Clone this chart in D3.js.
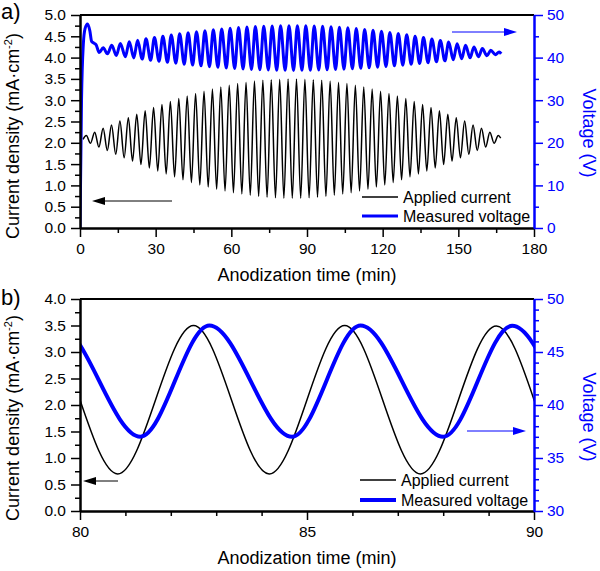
<!DOCTYPE html>
<html><head><meta charset="utf-8">
<script src="https://cdn.jsdelivr.net/npm/d3@7"></script>
<style>
body{margin:0;background:#fff;}
svg{display:block;font-family:"Liberation Sans",Arial,sans-serif;}
</style></head>
<body>
<svg id="chart" width="600" height="571"></svg>
<script>
// ---------- DATA ----------
const currentTime = [1.2, 2.50, 4.17, 5.83, 7.50, 9.17, 10.83, 12.50, 14.17, 15.83, 17.50, 19.17, 20.83, 22.50, 24.17, 25.83, 27.50, 29.17, 30.83, 32.50, 34.17, 35.83, 37.50, 39.17, 40.83, 42.50, 44.17, 45.83, 47.50, 49.17, 50.83, 52.50, 54.17, 55.83, 57.50, 59.17, 60.83, 62.50, 64.17, 65.83, 67.50, 69.17, 70.83, 72.50, 74.17, 75.83, 77.50, 79.17, 80.83, 82.50, 84.17, 85.83, 87.50, 89.17, 90.83, 92.50, 94.17, 95.83, 97.50, 99.17, 100.83, 102.50, 104.17, 105.83, 107.50, 109.17, 110.83, 112.50, 114.17, 115.83, 117.50, 119.17, 120.83, 122.50, 124.17, 125.83, 127.50, 129.17, 130.83, 132.50, 134.17, 135.83, 137.50, 139.17, 140.83, 142.50, 144.17, 145.83, 147.50, 149.17, 150.83, 152.50, 154.17, 155.83, 157.50, 159.17, 160.83, 162.50, 164.17, 165.83, 166.8];
const currentValue = [2.08, 2.17, 1.99, 2.25, 1.90, 2.34, 1.82, 2.42, 1.73, 2.51, 1.65, 2.59, 1.57, 2.67, 1.49, 2.75, 1.41, 2.83, 1.34, 2.90, 1.27, 2.97, 1.20, 3.04, 1.13, 3.10, 1.07, 3.16, 1.01, 3.21, 0.96, 3.26, 0.91, 3.31, 0.87, 3.35, 0.83, 3.39, 0.80, 3.42, 0.77, 3.45, 0.74, 3.47, 0.72, 3.48, 0.71, 3.49, 0.70, 3.50, 0.70, 3.50, 0.70, 3.49, 0.71, 3.48, 0.72, 3.47, 0.74, 3.45, 0.77, 3.42, 0.80, 3.39, 0.83, 3.35, 0.87, 3.31, 0.91, 3.26, 0.96, 3.21, 1.01, 3.16, 1.07, 3.10, 1.13, 3.04, 1.20, 2.97, 1.27, 2.90, 1.34, 2.83, 1.41, 2.75, 1.49, 2.67, 1.57, 2.59, 1.65, 2.51, 1.73, 2.42, 1.82, 2.34, 1.90, 2.25, 1.99, 2.17, 2.11];

const voltageTime = [0, 0.6, 1.3, 2.0, 3.0, 3.9, 4.6, 5.5, 6.4, 7.6, 9.2, 10.9, 12.6, 14.4, 16.0, 18.00, 19.52, 21.33, 22.85, 24.67, 26.18, 28.00, 29.52, 31.33, 32.85, 34.67, 36.18, 38.00, 39.52, 41.33, 42.85, 44.67, 46.18, 48.00, 49.52, 51.33, 52.85, 54.67, 56.18, 58.00, 59.52, 61.33, 62.85, 64.67, 66.18, 68.00, 69.52, 71.33, 72.85, 74.67, 76.18, 78.00, 79.52, 81.33, 82.85, 84.67, 86.18, 88.00, 89.52, 91.33, 92.85, 94.67, 96.18, 98.00, 99.52, 101.33, 102.85, 104.67, 106.18, 108.00, 109.52, 111.33, 112.85, 114.67, 116.18, 118.00, 119.52, 121.33, 122.85, 124.67, 126.18, 128.00, 129.52, 131.33, 132.85, 134.67, 136.18, 138.00, 139.52, 141.33, 142.85, 144.67, 146.18, 148.00, 149.52, 151.33, 152.85, 154.67, 156.18, 158.00, 159.52, 161.33, 162.85, 164.67, 166.18, 167.0];
const voltageValue = [0, 30, 43, 46.8, 47.9, 46.3, 43.8, 43.4, 43.0, 41.2, 42.3, 40.9, 42.9, 40.5, 43.3, 40.19, 43.73, 39.92, 44.07, 39.65, 44.40, 39.39, 44.71, 39.14, 45.01, 38.90, 45.30, 38.66, 45.58, 38.45, 45.84, 38.24, 46.09, 38.06, 46.31, 37.88, 46.52, 37.72, 46.72, 37.56, 46.88, 37.44, 47.04, 37.32, 47.17, 37.22, 47.28, 37.14, 47.37, 37.08, 47.43, 37.04, 47.48, 37.01, 47.50, 37.00, 47.50, 37.01, 47.47, 37.03, 47.43, 37.07, 47.35, 37.12, 47.25, 37.19, 47.13, 37.28, 46.98, 37.37, 46.81, 37.48, 46.62, 37.61, 46.40, 37.75, 46.16, 37.90, 45.92, 38.06, 45.64, 38.23, 45.35, 38.42, 45.04, 38.62, 44.71, 38.82, 44.37, 39.03, 44.02, 39.25, 43.66, 39.48, 43.28, 39.71, 42.89, 39.95, 42.50, 40.20, 42.11, 40.44, 41.71, 40.69, 41.31, 40.9];

// tick label arrays
const topXMajor = [0, 30, 60, 90, 120, 150, 180];
const topXMinor = [15, 45, 75, 105, 135, 165];
const topYLeftMajor = [0, 0.5, 1, 1.5, 2, 2.5, 3, 3.5, 4, 4.5, 5];
const topYLeftMinor = [0.25, 0.75, 1.25, 1.75, 2.25, 2.75, 3.25, 3.75, 4.25, 4.75];
const topYRightMajor = [0, 10, 20, 30, 40, 50];
const topYRightMinor = [5, 15, 25, 35, 45];
const botXMajor = [80, 85, 90];
const botXMinor = [81, 82, 83, 84, 86, 87, 88, 89];
const botYLeftMajor = [0, 0.5, 1, 1.5, 2, 2.5, 3, 3.5, 4];
const botYLeftMinor = [0.25, 0.75, 1.25, 1.75, 2.25, 2.75, 3.25, 3.75];
const botYRightMajor = [30, 35, 40, 45, 50];
const botYRightMinor = [31, 32, 33, 34, 36, 37, 38, 39, 41, 42, 43, 44, 46, 47, 48, 49];
const seriesNames = ["Applied current", "Measured voltage"];

// ---------- DRAW ----------
const BLUE = "#0000ff";
const svg = d3.select("#chart");
const currentPts = d3.zip(currentTime, currentValue);
const voltagePts = d3.zip(voltageTime, voltageValue);

const MAJ = 9, MIN = 5;

function panel(cfg) {
  const g = svg.append("g");
  const x = d3.scaleLinear().domain(cfg.xDomain).range([cfg.left, cfg.right]);
  const yL = d3.scaleLinear().domain(cfg.yLDomain).range([cfg.bottom, cfg.top]);
  const yR = d3.scaleLinear().domain(cfg.yRDomain).range([cfg.bottom, cfg.top]);

  const clipId = "clip" + cfg.id;
  svg.append("defs").append("clipPath").attr("id", clipId)
    .append("rect").attr("x", cfg.left).attr("y", cfg.top - 4)
    .attr("width", cfg.right - cfg.left).attr("height", cfg.bottom - cfg.top + 8);

  const plot = g.append("g").attr("clip-path", `url(#${clipId})`);
  const lineC = d3.line().x(d => x(d[0])).y(d => yL(d[1])).curve(d3.curveMonotoneX);
  const lineV = d3.line().x(d => x(d[0])).y(d => yR(d[1])).curve(d3.curveMonotoneX);
  plot.append("path").attr("d", lineC(currentPts)).attr("fill", "none")
    .attr("stroke", "#000").attr("stroke-width", cfg.cw);
  plot.append("path").attr("d", lineV(voltagePts)).attr("fill", "none")
    .attr("stroke", BLUE).attr("stroke-width", cfg.vw).attr("stroke-linejoin", "round");

  // frame top
  g.append("line").attr("x1", cfg.left).attr("x2", cfg.right).attr("y1", cfg.top).attr("y2", cfg.top)
    .attr("stroke", "#000").attr("stroke-width", 2);

  function styleAxis(sel, color, fs) {
    sel.selectAll("path.domain").attr("stroke", color).attr("stroke-width", 2);
    sel.selectAll(".tick line").attr("stroke", color).attr("stroke-width", 1.5);
    sel.selectAll(".tick text").attr("fill", color).attr("font-size", fs)
      .attr("font-family", '"Liberation Sans", Arial, sans-serif');
  }
  const FS = 15.5;
  // bottom
  const bx = g.append("g").attr("transform", `translate(0,${cfg.bottom})`);
  bx.append("g").call(d3.axisBottom(x).tickValues(cfg.xMinor).tickSize(MIN).tickSizeOuter(0).tickFormat(""))
    .call(s => styleAxis(s, "#000", FS));
  bx.append("g").call(d3.axisBottom(x).tickValues(cfg.xMajor).tickSize(MAJ).tickSizeOuter(0).tickPadding(6).tickFormat(d3.format("d")))
    .call(s => styleAxis(s, "#000", FS));
  // left
  const ly = g.append("g").attr("transform", `translate(${cfg.left},0)`);
  ly.append("g").call(d3.axisLeft(yL).tickValues(cfg.yLMinor).tickSize(MIN).tickSizeOuter(0).tickFormat(""))
    .call(s => styleAxis(s, "#000", FS));
  ly.append("g").call(d3.axisLeft(yL).tickValues(cfg.yLMajor).tickSize(MAJ).tickSizeOuter(0).tickPadding(5).tickFormat(d3.format(".1f")))
    .call(s => styleAxis(s, "#000", FS));
  // right
  const ry = g.append("g").attr("transform", `translate(${cfg.right},0)`);
  ry.append("g").call(d3.axisRight(yR).tickValues(cfg.yRMinor).tickSize(MIN).tickSizeOuter(0).tickFormat(""))
    .call(s => styleAxis(s, BLUE, FS));
  ry.append("g").call(d3.axisRight(yR).tickValues(cfg.yRMajor).tickSize(MAJ).tickSizeOuter(0).tickPadding(4).tickFormat(d3.format("d")))
    .call(s => styleAxis(s, BLUE, FS));

  // titles
  g.append("text").attr("x", 307).attr("y", cfg.bottom + 53)
    .attr("text-anchor", "middle").attr("font-size", 18).text("Anodization time (min)");
  const lt = g.append("text").attr("transform", `translate(19,${cfg.lTitleY}) rotate(-90)`)
    .attr("text-anchor", "middle").attr("font-size", 18);
  lt.append("tspan").text("Current density (mA·cm");
  lt.append("tspan").attr("font-size", 11).attr("dy", -7).text("-2");
  lt.append("tspan").attr("dy", 7).text(")");
  g.append("text").attr("transform", `translate(583,${cfg.rTitleY}) rotate(90)`)
    .attr("text-anchor", "middle").attr("font-size", 18).attr("fill", BLUE).text("Voltage (V)");

  // panel label
  g.append("text").attr("x", 1).attr("y", cfg.labelY).attr("font-size", 22).text(cfg.label);

  // legend
  const lg = g.append("g");
  [[seriesNames[0], "#000", cfg.cw, cfg.legY1], [seriesNames[1], BLUE, cfg.vw, cfg.legY2]].forEach(([name, col, w, yy]) => {
    lg.append("line").attr("x1", cfg.legX).attr("x2", cfg.legX + 36).attr("y1", yy).attr("y2", yy)
      .attr("stroke", col).attr("stroke-width", w);
    lg.append("text").attr("x", cfg.legX + 41).attr("y", yy).attr("dy", "0.36em")
      .attr("font-size", 16).text(name);
  });

  // arrows
  function arrow(x1, x2, yy, col) {
    const dir = Math.sign(x2 - x1);
    g.append("line").attr("x1", x1).attr("x2", x2 - dir * 12).attr("y1", yy).attr("y2", yy)
      .attr("stroke", col).attr("stroke-width", 1);
    g.append("path").attr("d", `M${x2},${yy} L${x2 - dir * 13},${yy - 4} L${x2 - dir * 13},${yy + 4} Z`)
      .attr("fill", col);
  }
  arrow(cfg.bArrow[0], cfg.bArrow[1], cfg.bArrow[2], "#000");
  arrow(cfg.vArrow[0], cfg.vArrow[1], cfg.vArrow[2], BLUE);
}

panel({
  id: "a", label: "a)", labelY: 19,
  left: 80, right: 534, top: 15, bottom: 228,
  xDomain: [0, 180], yLDomain: [0, 5], yRDomain: [0, 50],
  xMajor: topXMajor, xMinor: topXMinor,
  yLMajor: topYLeftMajor, yLMinor: topYLeftMinor,
  yRMajor: topYRightMajor, yRMinor: topYRightMinor,
  cw: 1.5, vw: 3,
  lTitleY: 136, rTitleY: 133,
  legX: 362, legY1: 197, legY2: 216,
  bArrow: [172, 92, 201], vArrow: [452, 517, 32]
});
panel({
  id: "b", label: "b)", labelY: 305,
  left: 80, right: 534, top: 299, bottom: 511,
  xDomain: [80, 90], yLDomain: [0, 4], yRDomain: [30, 50],
  xMajor: botXMajor, xMinor: botXMinor,
  yLMajor: botYLeftMajor, yLMinor: botYLeftMinor,
  yRMajor: botYRightMajor, yRMinor: botYRightMinor,
  cw: 1.5, vw: 4,
  lTitleY: 418, rTitleY: 417,
  legX: 360, legY1: 480, legY2: 500,
  bArrow: [118, 83, 481], vArrow: [467, 526, 431]
});
</script>
</body></html>
